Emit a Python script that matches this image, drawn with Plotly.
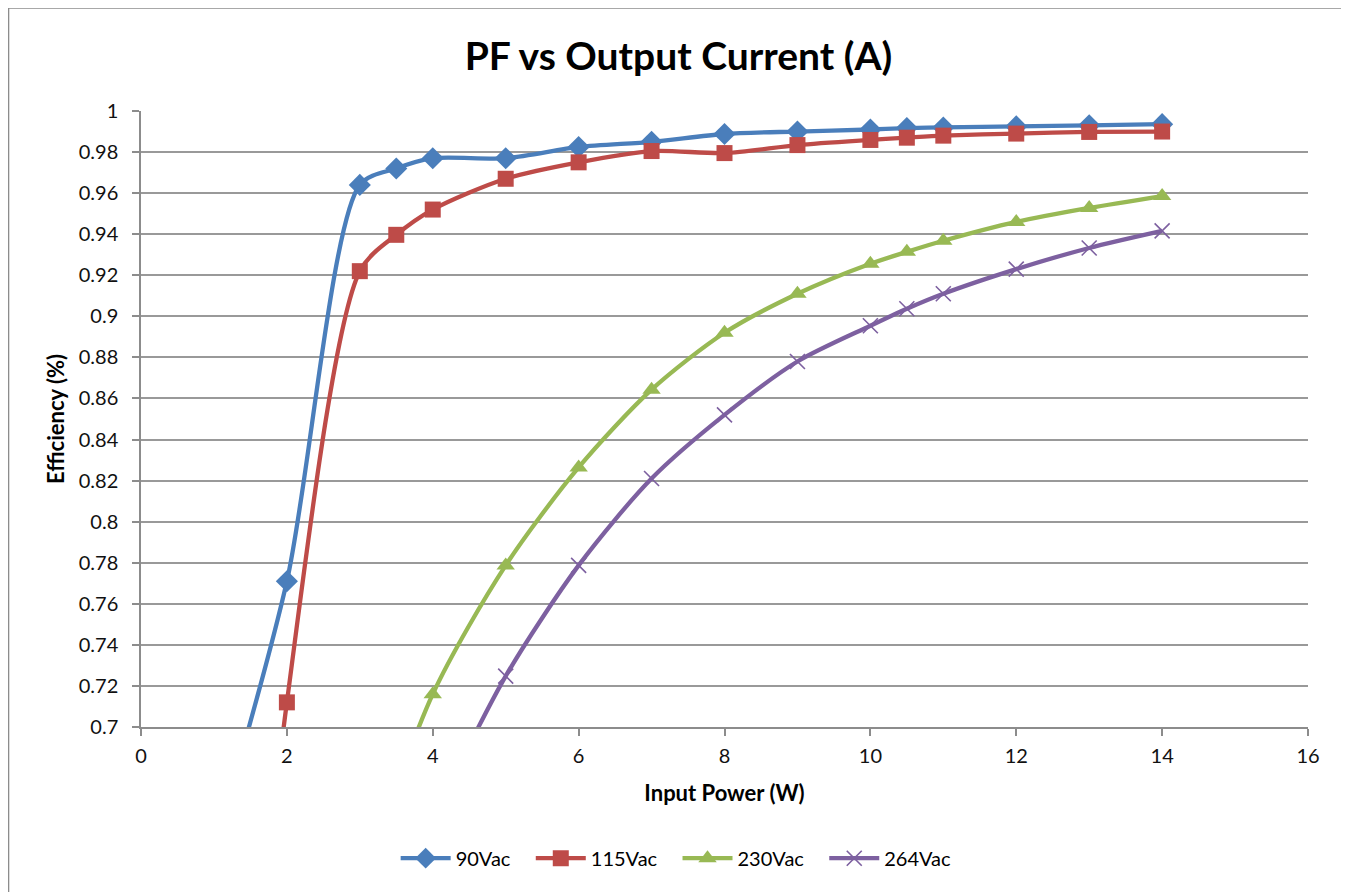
import plotly.graph_objects as go

x_90 = [1, 2, 3, 3.5, 4, 5, 6, 7, 8, 9, 10, 10.5, 11, 12, 13, 14]
y_90 = [0.64, 0.771, 0.964, 0.972, 0.977, 0.977, 0.9825, 0.985, 0.9888, 0.990, 0.991, 0.9917, 0.992, 0.9925, 0.993, 0.9936]

x_115 = [1, 2, 3, 3.5, 4, 5, 6, 7, 8, 9, 10, 10.5, 11, 12, 13, 14]
y_115 = [0.35, 0.712, 0.922, 0.9397, 0.952, 0.967, 0.975, 0.9805, 0.9795, 0.9834, 0.9859, 0.987, 0.988, 0.989, 0.9898, 0.990]

x_230 = [3, 4, 5, 6, 7, 8, 9, 10, 10.5, 11, 12, 13, 14]
y_230 = [0.62, 0.716, 0.7787, 0.8264, 0.8643, 0.892, 0.911, 0.9256, 0.9314, 0.9368, 0.946, 0.9528, 0.9586]

x_264 = [4, 5, 6, 7, 8, 9, 10, 10.5, 11, 12, 13, 14]
y_264 = [0.655, 0.7248, 0.7787, 0.821, 0.852, 0.878, 0.8954, 0.9037, 0.911, 0.923, 0.9333, 0.9416]

names = ["90Vac", "115Vac", "230Vac", "264Vac"]
colors = ["#4a7ebb", "#be4b48", "#98b954", "#7d60a0"]
symbols = ["diamond", "square", "triangle-up", "x-thin"]
sizes = [17, 16, 16, 15]

fig = go.Figure()
for xs, ys, nm, c, s, sz in zip([x_90, x_115, x_230, x_264], [y_90, y_115, y_230, y_264],
                                names, colors, symbols, sizes):
    fig.add_trace(go.Scatter(
        x=xs, y=ys, name=nm + "   ", mode="lines+markers",
        line=dict(color=c, width=4.3, shape="spline", smoothing=0.8),
        marker=dict(symbol=s, size=sz, color=c,
                    line=dict(color=c, width=1.6 if s == "x-thin" else 0)),
    ))

font_family = "Lato, Open Sans, sans-serif"
fig.update_layout(
    width=1341, height=884,
    paper_bgcolor="white", plot_bgcolor="white",
    margin=dict(l=133, r=41, t=103, b=165),
    title=dict(text="<b>PF vs Output Current (A)</b>", x=0.5, xanchor="center",
               y=0.945, yanchor="middle", font=dict(family=font_family, size=39, color="black")),
    font=dict(family=font_family, color="black"),
    xaxis=dict(range=[0, 16], dtick=2, showgrid=False, showline=True, linecolor="#8c8c8c",
               linewidth=1.5, ticks="outside", ticklen=7, tickcolor="#8c8c8c", tickwidth=1.5,
               tickfont=dict(size=20, color="#111"), zeroline=False, ticklabelstandoff=3,
               title=dict(text="<b>Input Power (W)</b>", font=dict(size=22), standoff=20)),
    yaxis=dict(range=[0.7, 1.0], dtick=0.02, showgrid=True, gridcolor="#999999", gridwidth=1.5,
               showline=True, linecolor="#8c8c8c", linewidth=1.5, ticks="outside", ticklen=7,
               tickcolor="#8c8c8c", tickwidth=1.5, tickfont=dict(size=20, color="#111"), zeroline=False,
               tickformat="~g", ticklabelstandoff=10,
               title=dict(text="<b>Efficiency (%)</b>", font=dict(size=22), standoff=8)),
    legend=dict(orientation="h", x=0.465, xanchor="center", y=-0.213, yanchor="middle",
                font=dict(size=20), itemwidth=50, tracegroupgap=0),
    shapes=[dict(type="rect", xref="paper", yref="paper", x0=-0.1135, x1=1.0321,
                 y0=-0.4, y1=1.1672, line=dict(color="#8c8c8c", width=1.5), layer="below")],
)

fig.write_html("out.html")
